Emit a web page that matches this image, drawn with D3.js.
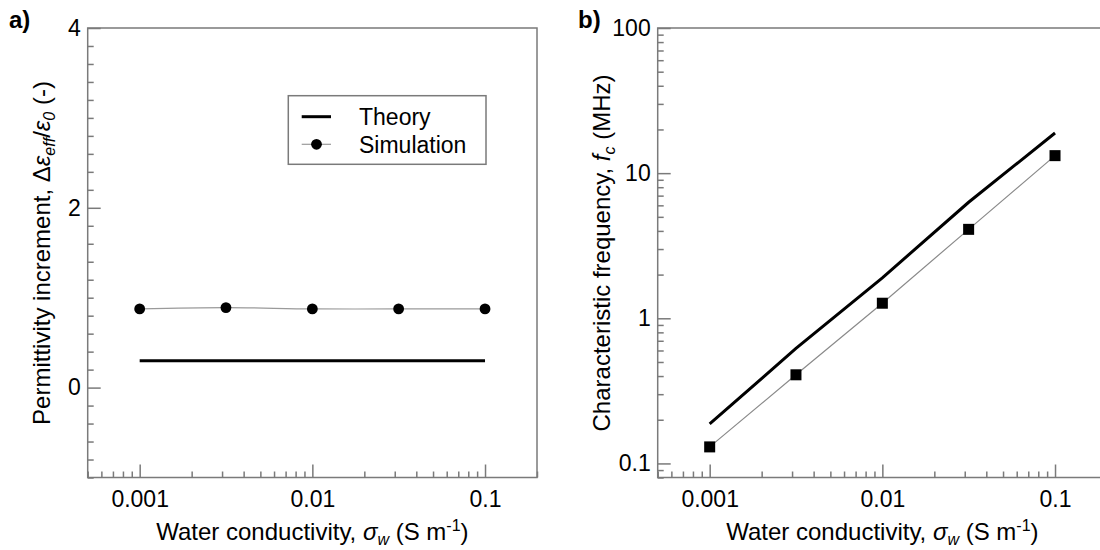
<!DOCTYPE html>
<html><head><meta charset="utf-8">
<script src="https://cdn.jsdelivr.net/npm/d3@7"></script>
<style>
body{margin:0;background:#fff;}
text{font-family:"Liberation Sans",Arial,sans-serif;fill:#000;}
</style></head>
<body><svg id="chart" width="1100" height="550"></svg>
<script>
// ---- data ----
const conductivity = [0.001, 0.00316, 0.01, 0.0316, 0.1];
const theoryA = [0.30, 0.30, 0.30, 0.30, 0.30];
const simulationA = [0.875, 0.89, 0.875, 0.875, 0.875];
const theoryB = [0.187, 0.62, 1.9, 6.3, 18.9];
const simulationB = [0.130, 0.408, 1.27, 4.1, 13.2];
const xTicks = [0.001, 0.01, 0.1];
const xTickLabels = ["0.001", "0.01", "0.1"];
const yTicksA = [0, 2, 4];
const yTicksB = [0.1, 1, 10, 100];
const yTickLabelsB = ["0.1", "1", "10", "100"];
const legendLabels = ["Theory", "Simulation"];

const svg = d3.select("#chart");
const frameColor = "#7a7a7a";
const plotTop = 28, plotBottom = 477.5;
const fs = 23, tfs = 24;

function frame(g, x0, x1) {
  g.append("rect").attr("x", x0).attr("y", plotTop).attr("width", x1 - x0).attr("height", plotBottom - plotTop)
    .attr("fill", "none").attr("stroke", frameColor).attr("stroke-width", 1.5);
}
function styleAxis(sel) {
  sel.select(".domain").remove();
  sel.selectAll(".tick line").attr("stroke", frameColor).attr("stroke-width", 1.5);
  sel.selectAll(".tick text").style("font-size", fs + "px").style("font-family", '"Liberation Sans",Arial,sans-serif').attr("fill", "#000");
}
function minorLog(domain) {
  const out = [];
  for (let e = -5; e <= 3; e++) for (let m = 2; m <= 9; m++) {
    const v = m * Math.pow(10, e);
    if (v >= domain[0] * 0.999 && v <= domain[1] * 1.001) out.push(v);
  }
  return out;
}

function xAxes(g, x) {
  g.append("g").attr("transform", `translate(0,${plotBottom})`)
    .call(d3.axisBottom(x).tickValues(minorLog(x.domain())).tickFormat("").tickSizeInner(-6).tickSizeOuter(0))
    .call(styleAxis);
  g.append("g").attr("transform", `translate(0,${plotBottom})`)
    .call(d3.axisBottom(x).tickValues(xTicks).tickFormat((d, i) => xTickLabels[i]).tickSizeInner(-13).tickSizeOuter(0).tickPadding(13))
    .call(styleAxis);
}
function xTitle(g, cx) {
  const t = g.append("text").attr("x", cx).attr("y", 540).attr("text-anchor", "middle").style("font-size", tfs + "px");
  t.append("tspan").text("Water conductivity, ");
  t.append("tspan").attr("font-style", "italic").text("σ");
  t.append("tspan").attr("font-style", "italic").attr("dy", 5).style("font-size", "16px").text("w");
  t.append("tspan").attr("dy", -5).text(" (S m");
  t.append("tspan").attr("dy", -9).style("font-size", "16px").text("-1");
  t.append("tspan").attr("dy", 9).text(")");
}

// ---------- Panel a ----------
const ga = svg.append("g");
const xa = d3.scaleLog().domain([0.0005, 0.2]).range([87.7, 537]);
const ya = d3.scaleLinear().domain([-1, 4]).range([plotBottom, plotTop]);
frame(ga, 87.7, 537);
xAxes(ga, xa);
ga.append("g").attr("transform", "translate(87.7,0)")
  .call(d3.axisLeft(ya).tickValues(d3.range(-1, 4.001, 0.2).filter(v => Math.abs(v - Math.round(v / 2) * 2) > 1e-6)).tickFormat("").tickSizeInner(-6).tickSizeOuter(0))
  .call(styleAxis);
ga.append("g").attr("transform", "translate(87.7,0)")
  .call(d3.axisLeft(ya).tickValues(yTicksA).tickFormat(d3.format("d")).tickSizeInner(-13).tickSizeOuter(0).tickPadding(7))
  .call(styleAxis);

ga.append("path").datum(conductivity.map((c, i) => [c, simulationA[i]]))
  .attr("d", d3.line().x(d => xa(d[0])).y(d => ya(d[1])).curve(d3.curveCatmullRom))
  .attr("fill", "none").attr("stroke", "#9a9a9a").attr("stroke-width", 1.2);
ga.append("path").datum(conductivity.map((c, i) => [c, theoryA[i]]))
  .attr("d", d3.line().x(d => xa(d[0])).y(d => ya(d[1])))
  .attr("fill", "none").attr("stroke", "#000").attr("stroke-width", 3);
ga.selectAll("circle.sim").data(conductivity).join("circle").attr("class", "sim")
  .attr("cx", d => xa(d)).attr("cy", (d, i) => ya(simulationA[i])).attr("r", 5.4).attr("fill", "#000");

xTitle(ga, 312.4);
{
  const t = ga.append("text").attr("transform", "translate(50,253) rotate(-90)").attr("text-anchor", "middle").style("font-size", tfs + "px");
  t.append("tspan").text("Permittivity increment, Δ");
  t.append("tspan").attr("font-style", "italic").text("ε");
  t.append("tspan").attr("font-style", "italic").attr("dy", 5).style("font-size", "16px").text("eff");
  t.append("tspan").attr("dy", -5).text("/");
  t.append("tspan").attr("font-style", "italic").text("ε");
  t.append("tspan").attr("font-style", "italic").attr("dy", 5).style("font-size", "16px").text("0");
  t.append("tspan").attr("dy", -5).text(" (-)");
}
ga.append("text").attr("x", 9).attr("y", 28).style("font-size", "24px").style("font-weight", "bold").text("a)");

// legend
const lg = ga.append("g");
lg.append("rect").attr("x", 288.3).attr("y", 95.7).attr("width", 197.7).attr("height", 68.6)
  .attr("fill", "#fff").attr("stroke", frameColor).attr("stroke-width", 1.5);
lg.append("line").attr("x1", 301.7).attr("x2", 331).attr("y1", 116.7).attr("y2", 116.7).attr("stroke", "#000").attr("stroke-width", 3);
lg.append("line").attr("x1", 301.7).attr("x2", 331).attr("y1", 144.3).attr("y2", 144.3).attr("stroke", "#9a9a9a").attr("stroke-width", 1.2);
lg.append("circle").attr("cx", 316.5).attr("cy", 144.3).attr("r", 5.4).attr("fill", "#000");
lg.selectAll("text.lt").data(legendLabels).join("text").attr("class", "lt")
  .attr("x", 359).attr("y", (d, i) => 125 + i * 27.7).style("font-size", fs + "px").text(d => d);

// ---------- Panel b ----------
const gb = svg.append("g");
const xb = d3.scaleLog().domain([0.0005, 0.2]).range([657.7, 1107]);
const yb = d3.scaleLog().domain([0.08, 100]).range([plotBottom, plotTop]);
frame(gb, 657.7, 1107);
xAxes(gb, xb);
gb.append("g").attr("transform", "translate(657.7,0)")
  .call(d3.axisLeft(yb).tickValues(minorLog(yb.domain())).tickFormat("").tickSizeInner(-6).tickSizeOuter(0))
  .call(styleAxis);
gb.append("g").attr("transform", "translate(657.7,0)")
  .call(d3.axisLeft(yb).tickValues(yTicksB).tickFormat((d, i) => yTickLabelsB[i]).tickSizeInner(-13).tickSizeOuter(0).tickPadding(7))
  .call(styleAxis);

gb.append("path").datum(conductivity.map((c, i) => [c, simulationB[i]]))
  .attr("d", d3.line().x(d => xb(d[0])).y(d => yb(d[1])))
  .attr("fill", "none").attr("stroke", "#8a8a8a").attr("stroke-width", 1.2);
gb.append("path").datum(conductivity.map((c, i) => [c, theoryB[i]]))
  .attr("d", d3.line().x(d => xb(d[0])).y(d => yb(d[1])))
  .attr("fill", "none").attr("stroke", "#000").attr("stroke-width", 3);
gb.selectAll("rect.sim").data(conductivity).join("rect").attr("class", "sim")
  .attr("x", d => xb(d) - 5.5).attr("y", (d, i) => yb(simulationB[i]) - 5.5)
  .attr("width", 11).attr("height", 11).attr("fill", "#000");

xTitle(gb, 882.4);
{
  const t = gb.append("text").attr("transform", "translate(610,253) rotate(-90)").attr("text-anchor", "middle").style("font-size", tfs + "px");
  t.append("tspan").text("Characteristic frequency, ");
  t.append("tspan").attr("font-style", "italic").text("f");
  t.append("tspan").attr("font-style", "italic").attr("dy", 5).style("font-size", "16px").text("c");
  t.append("tspan").attr("dy", -5).text(" (MHz)");
}
gb.append("text").attr("x", 578).attr("y", 28).style("font-size", "24px").style("font-weight", "bold").text("b)");
</script>
</body></html>
